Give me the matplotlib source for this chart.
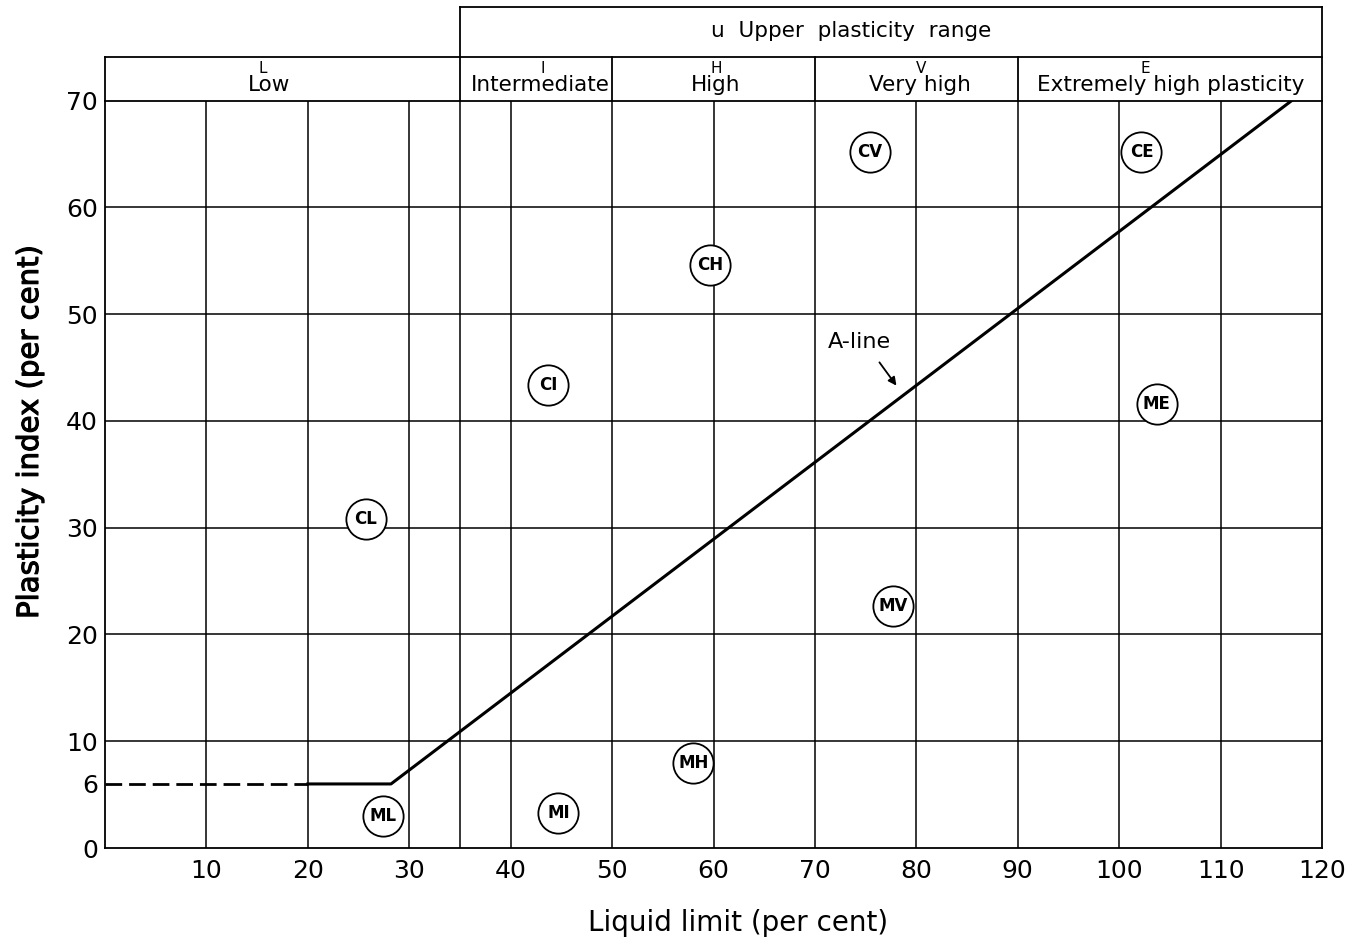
import matplotlib
matplotlib.use('Agg')
import matplotlib.pyplot as plt
import matplotlib.patheffects as pe

# A-line and its dashed extension at PI = 6
aline_ll = [20, 28.2, 117]
aline_pi = [6, 6, 70]
dash_ll = [0, 20]
dash_pi = [6, 6]

# soil group symbols (liquid limit, plasticity index)
group_names = ['CL', 'ML', 'CI', 'MI', 'CH', 'MH', 'CV', 'MV', 'CE', 'ME']
group_ll = [25.7, 27.4, 43.7, 44.7, 59.7, 58.0, 75.4, 77.7, 102.2, 103.7]
group_pi = [30.8, 3.0, 43.4, 3.3, 54.6, 8.0, 65.2, 22.7, 65.2, 41.6]

# plasticity ranges along the top
range_edges = [0, 35, 50, 70, 90, 120]
range_names = ['Low', 'Intermediate', 'High', 'Very high', 'Extremely high plasticity']
range_letters = ['L', 'I', 'H', 'V', 'E']
name_x = [16.2, 42.9, 60.2, 80.4, 105.1]
letter_x = [15.6, 43.2, 60.3, 80.5, 102.6]

xticks = [10, 20, 30, 40, 50, 60, 70, 80, 90, 100, 110, 120]
yticks = [0, 6, 10, 20, 30, 40, 50, 60, 70]
vgrid = [10, 20, 30, 35, 40, 50, 60, 70, 80, 90, 100, 110]
hgrid = [10, 20, 30, 40, 50, 60]

fig = plt.figure(figsize=(13.61, 9.47), dpi=100)
ax = fig.add_axes([105 / 1361, 1 - 848 / 947, (1322 - 105) / 1361, (848 - 100.7) / 947])
ax.set_xlim(0, 120)
ax.set_ylim(0, 70)

for s in ax.spines.values():
    s.set_linewidth(1.3)

for x in vgrid:
    ax.axvline(x, color='black', lw=1.1)
for y in hgrid:
    ax.axhline(y, color='black', lw=1.1)

ax.plot(dash_ll, dash_pi, color='black', lw=2, ls=(0, (6, 2.5)))
ax.plot(aline_ll, aline_pi, color='black', lw=2.2)

ax.plot(group_ll, group_pi, 'o', ms=29, mfc='white', mec='black', mew=1.3, zorder=5)
for name, x, y in zip(group_names, group_ll, group_pi):
    ax.text(x, y, name, ha='center', va='center', fontsize=12, fontweight='bold', zorder=6)

ax.annotate('', xy=(78.2, 43.1), xytext=(76.2, 45.7),
            arrowprops=dict(arrowstyle='-|>', color='black', lw=1.3, mutation_scale=12))
ax.text(74.4, 47.4, 'A-line', ha='center', va='center', fontsize=16)

# header boxes
row_top = 74.05
box_top = 78.75
hdr = dict(color='black', lw=1.3, clip_on=False)
ax.plot([0, 0], [70, row_top], **hdr)
ax.plot([0, 35], [row_top, row_top], **hdr)
ax.plot([35, 120], [row_top, row_top], **hdr)
ax.plot([35, 120], [box_top, box_top], **hdr)
ax.plot([35, 35], [70, box_top], **hdr)
ax.plot([120, 120], [70, box_top], **hdr)
for e in range_edges[2:-1]:
    ax.plot([e, e], [70, row_top], **hdr)
for nm, lt, nx, lx in zip(range_names, range_letters, name_x, letter_x):
    ax.text(nx, 71.5, nm, ha='center', va='center', fontsize=15.5, clip_on=False)
    ax.text(lx, 73.0, lt, ha='center', va='center', fontsize=11, clip_on=False)
ax.text(73.6, 76.5, 'u  Upper  plasticity  range', ha='center', va='center', fontsize=15.5, clip_on=False)

ax.set_xticks(xticks)
ax.set_yticks(yticks)
ax.tick_params(length=0, labelsize=18)
ax.tick_params(axis='x', pad=8)
ax.tick_params(axis='y', pad=5)

fig.text(30 / 1361, 1 - 432 / 947, 'Plasticity index (per cent)', rotation=90,
         ha='center', va='center', fontsize=21,
         path_effects=[pe.withStroke(linewidth=0.8, foreground='black')])
fig.text(738 / 1361, 1 - 923 / 947, 'Liquid limit (per cent)', ha='center', va='center', fontsize=20)

fig.savefig('out.png', dpi=100)
